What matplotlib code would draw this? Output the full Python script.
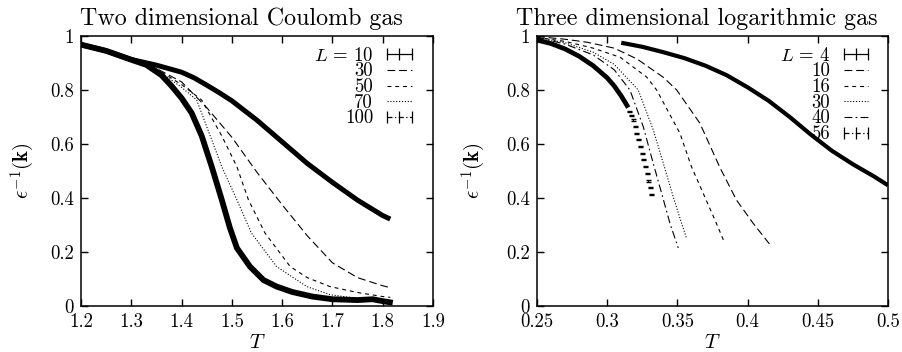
import matplotlib
matplotlib.use('Agg')
import matplotlib.pyplot as plt
from matplotlib.lines import Line2D

plt.rcParams['font.family'] = 'cmr10'
plt.rcParams['mathtext.fontset'] = 'cm'
plt.rcParams['axes.formatter.use_mathtext'] = True

# ---- Two dimensional Coulomb gas ----
T10 = [1.20, 1.25, 1.30, 1.35, 1.40, 1.425, 1.45, 1.475, 1.50, 1.55, 1.60, 1.65, 1.70, 1.75, 1.80, 1.815]
E10 = [0.968, 0.945, 0.913, 0.892, 0.866, 0.845, 0.818, 0.790, 0.760, 0.688, 0.608, 0.528, 0.458,
       0.392, 0.335, 0.322]

T30 = [1.20, 1.30, 1.35, 1.40, 1.45, 1.50, 1.55, 1.60, 1.65, 1.70, 1.75, 1.80, 1.815]
E30 = [0.968, 0.913, 0.880, 0.830, 0.735, 0.625, 0.495, 0.375, 0.260, 0.160, 0.105, 0.075, 0.068]

T50 = [1.20, 1.30, 1.35, 1.40, 1.44, 1.48, 1.51, 1.533, 1.566, 1.616, 1.65, 1.695, 1.75, 1.80, 1.815]
E50 = [0.968, 0.913, 0.878, 0.820, 0.763, 0.630, 0.516, 0.393, 0.270, 0.146, 0.105, 0.072, 0.050, 0.035, 0.032]

T70 = [1.20, 1.30, 1.35, 1.40, 1.43, 1.455, 1.48, 1.51, 1.539, 1.589, 1.649, 1.695, 1.75, 1.80]
E70 = [0.968, 0.913, 0.876, 0.810, 0.763, 0.640, 0.516, 0.393, 0.270, 0.146, 0.072, 0.042, 0.028, 0.020]

T100 = [1.20, 1.25, 1.30, 1.33, 1.36, 1.38, 1.40, 1.42, 1.44, 1.46, 1.48, 1.496, 1.51, 1.536, 1.563,
        1.589, 1.62, 1.66, 1.70, 1.75, 1.78, 1.80, 1.82]
E100 = [0.968, 0.945, 0.912, 0.893, 0.855, 0.815, 0.770, 0.715, 0.630, 0.516, 0.393, 0.290, 0.215,
        0.146, 0.096, 0.072, 0.052, 0.035, 0.025, 0.022, 0.025, 0.018, 0.012]

# ---- Three dimensional logarithmic gas ----
T4 = [0.31, 0.325, 0.34, 0.355, 0.37, 0.385, 0.40, 0.415, 0.43, 0.445, 0.46, 0.475, 0.49, 0.50]
E4 = [0.975, 0.960, 0.940, 0.918, 0.890, 0.855, 0.810, 0.760, 0.700, 0.635, 0.575, 0.525, 0.480, 0.447]

T10r = [0.25, 0.27, 0.2856, 0.305, 0.3212, 0.340, 0.3495, 0.366, 0.380, 0.392, 0.404, 0.416]
E10r = [0.998, 0.988, 0.977, 0.955, 0.915, 0.847, 0.800, 0.677, 0.516, 0.393, 0.306, 0.227]

T16 = [0.25, 0.27, 0.29, 0.3093, 0.3283, 0.3352, 0.3518, 0.360, 0.3684, 0.3767, 0.3838]
E16 = [0.995, 0.980, 0.955, 0.921, 0.847, 0.800, 0.640, 0.516, 0.417, 0.319, 0.232]

T30r = [0.25, 0.27, 0.29, 0.305, 0.3221, 0.3328, 0.340, 0.347, 0.353, 0.3566]
E30r = [0.995, 0.975, 0.940, 0.895, 0.800, 0.652, 0.528, 0.405, 0.306, 0.250]

T40 = [0.25, 0.27, 0.29, 0.305, 0.3162, 0.3257, 0.3328, 0.3388, 0.3447, 0.3506]
E40 = [0.995, 0.970, 0.930, 0.875, 0.800, 0.664, 0.528, 0.417, 0.306, 0.215]

T56 = [0.25, 0.26, 0.27, 0.28, 0.29, 0.30, 0.305, 0.31, 0.315]
E56 = [0.985, 0.972, 0.952, 0.925, 0.890, 0.845, 0.815, 0.778, 0.735]
T56e = [0.3155, 0.3170, 0.3186, 0.3197, 0.3208, 0.3221, 0.3233, 0.3245, 0.3257, 0.3268,
        0.3280, 0.3292, 0.3305, 0.3315]
E56e = [0.722, 0.706, 0.689, 0.664, 0.640, 0.615, 0.590, 0.566, 0.541, 0.516,
        0.491, 0.463, 0.438, 0.414]

fig = plt.figure(figsize=(9.02, 3.52), dpi=100)
ax1 = fig.add_axes([81 / 902, 46 / 352, 352 / 902, 270 / 352])
ax2 = fig.add_axes([537 / 902, 46 / 352, 351 / 902, 270 / 352])

thin = 0.8
ax1.plot(T10, E10, color='k', lw=3.6, solid_capstyle='butt', solid_joinstyle='round')
ax1.plot(T30, E30, color='k', lw=thin, dashes=(7, 3.5))
ax1.plot(T50, E50, color='k', lw=thin, dashes=(3.5, 3.5))
ax1.plot(T70, E70, color='k', lw=thin, dashes=(1, 1.6))
ax1.plot(T100, E100, color='k', lw=4.2, solid_capstyle='butt', solid_joinstyle='round')

ax2.plot(T4, E4, color='k', lw=3.0, solid_capstyle='butt', solid_joinstyle='round')
ax2.plot(T10r, E10r, color='k', lw=thin, dashes=(7, 3.5))
ax2.plot(T16, E16, color='k', lw=thin, dashes=(3.5, 3.5))
ax2.plot(T30r, E30r, color='k', lw=thin, dashes=(1, 1.6))
ax2.plot(T40, E40, color='k', lw=thin, dashes=(7, 3, 1.5, 3))
ax2.plot(T56, E56, color='k', lw=3.4, solid_capstyle='butt', solid_joinstyle='round')
ax2.errorbar(T56e, E56e, yerr=0.002, fmt='none', ecolor='k', elinewidth=0.8,
             capsize=1.8, capthick=1.0)

def bar_handle(dashes=None):
    h = Line2D([], [], color='k', lw=0.9, marker='|', markersize=8, markeredgewidth=0.9)
    if dashes:
        h.set_dashes(dashes)
    return h

h_dash = Line2D([], [], color='k', lw=thin, dashes=(7, 3.5))
h_short = Line2D([], [], color='k', lw=thin, dashes=(3.5, 3.5))
h_dot = Line2D([], [], color='k', lw=thin, dashes=(1, 1.6))
h_dd = Line2D([], [], color='k', lw=thin, dashes=(7, 3, 1.5, 3))

leg_kw = dict(loc='upper right', frameon=False, markerfirst=False, numpoints=3,
              fontsize=13.5, handlelength=1.9, handletextpad=0.45, labelspacing=-0.12,
              borderpad=0, borderaxespad=0)
ax1.legend([bar_handle(), h_dash, h_short, h_dot, bar_handle((4, 2, 1, 2))],
           [r'$L\,=\,10$', '30', '50', '70', '100'],
           bbox_to_anchor=(0.955, 0.96), **leg_kw)
ax2.legend([bar_handle(), h_dash, h_short, h_dot, h_dd, bar_handle((4, 2, 1, 2))],
           [r'$L\,=\,4$', '10', '16', '30', '40', '56'],
           bbox_to_anchor=(0.96, 0.96), **leg_kw)

ax1.set_xlim(1.2, 1.9)
ax1.set_xticks([1.2, 1.3, 1.4, 1.5, 1.6, 1.7, 1.8, 1.9],
               ['1.2', '1.3', '1.4', '1.5', '1.6', '1.7', '1.8', '1.9'])
ax2.set_xlim(0.25, 0.5)
ax2.set_xticks([0.25, 0.3, 0.35, 0.4, 0.45, 0.5],
               ['0.25', '0.3', '0.35', '0.4', '0.45', '0.5'])

for ax, title, ylx in [(ax1, 'Two dimensional Coulomb gas', -0.126),
                       (ax2, 'Three dimensional logarithmic gas', -0.141)]:
    ax.set_ylim(0, 1)
    ax.set_yticks([0, 0.2, 0.4, 0.6, 0.8, 1.0], ['0', '0.2', '0.4', '0.6', '0.8', '1'])
    ax.tick_params(direction='in', length=5, width=1, top=True, right=True,
                   labelsize=13.5, pad=5)
    for s in ax.spines.values():
        s.set_linewidth(1.1)
    ax.set_title(title, fontsize=17.3, pad=8, x=0.456)
    ax.set_xlabel('$T$', fontsize=15, labelpad=2)
    ax.set_ylabel(r'$\epsilon^{-1}(\mathbf{k})$', fontsize=15)
    ax.yaxis.set_label_coords(ylx, 0.5)

fig.savefig('out.png', dpi=100)
